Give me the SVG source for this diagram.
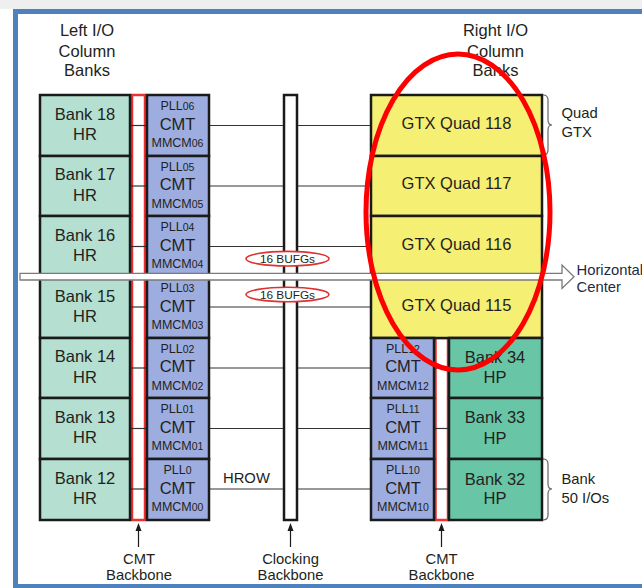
<svg xmlns="http://www.w3.org/2000/svg" width="642" height="588" viewBox="0 0 642 588">
<style>
text{font-family:"Liberation Sans",Arial,sans-serif;fill:#231f20}
.bank{fill:#b4dfd1;stroke:#1a1a1a;stroke-width:2.5}
.hp{fill:#68c6a7;stroke:#1a1a1a;stroke-width:2.5}
.cmt{fill:#9dade0;stroke:#1a1a1a;stroke-width:2.5}
.gtx{fill:#f5ef74;stroke:#1a1a1a;stroke-width:2.5}
.red{fill:#fff;stroke:#ee3030;stroke-width:2.5}
.bb{fill:#fff;stroke:#1a1a1a;stroke-width:2.5}
.ln{stroke:#333;stroke-width:1.2;fill:none}
.br{stroke:#666;stroke-width:1.2;fill:none}
.bt{font-size:16.5px;text-anchor:middle}
.ct{font-size:16.5px;text-anchor:middle}
.pl{font-size:12.5px;text-anchor:middle}
.sm{font-size:10.5px}
.lb{font-size:16.5px;text-anchor:middle}
.lb2{font-size:14.8px;text-anchor:middle}
.side{font-size:14.8px}
.ar{stroke:#1a1a1a;stroke-width:1.2}
.ah{fill:#1a1a1a}
</style>
<rect x="0" y="0" width="642" height="588" fill="#fff"/>
<rect x="0" y="0" width="642" height="9" fill="#efefef"/>
<rect x="15.5" y="11.5" width="660" height="575" fill="#fff" stroke="#4f81bd" stroke-width="5"/>

<g id="labels-top">
<text class="lb" x="87" y="36">Left I/O</text>
<text class="lb" x="87" y="57">Column</text>
<text class="lb" x="87" y="76">Banks</text>
<text class="lb" x="495.5" y="36">Right I/O</text>
<text class="lb" x="495.5" y="57">Column</text>
<text class="lb" x="495.5" y="76">Banks</text>
</g>

<g id="cmt-backbone-left"><rect class="red" x="132" y="95" width="13" height="425"/></g>
<g id="clocking-backbone"><rect class="bb" x="284" y="95" width="13" height="425"/></g>
<g id="cmt-backbone-right"><rect class="red" x="435.5" y="338" width="12.5" height="182"/></g>

<g id="connectors">
<line class="ln" x1="130" y1="125.5" x2="147" y2="125.5"/>
<line class="ln" x1="130" y1="186" x2="147" y2="186"/>
<line class="ln" x1="130" y1="246.5" x2="147" y2="246.5"/>
<line class="ln" x1="130" y1="307" x2="147" y2="307"/>
<line class="ln" x1="130" y1="368" x2="147" y2="368"/>
<line class="ln" x1="130" y1="428.5" x2="147" y2="428.5"/>
<line class="ln" x1="130" y1="489" x2="147" y2="489"/>
<line class="ln" x1="209" y1="125.5" x2="283" y2="125.5"/>
<line class="ln" x1="209" y1="186" x2="283" y2="186"/>
<line class="ln" x1="209" y1="246.5" x2="283" y2="246.5"/>
<line class="ln" x1="209" y1="307" x2="283" y2="307"/>
<line class="ln" x1="209" y1="368" x2="283" y2="368"/>
<line class="ln" x1="209" y1="428.5" x2="283" y2="428.5"/>
<line class="ln" x1="209" y1="489" x2="283" y2="489"/>
<line class="ln" x1="298" y1="125.5" x2="371" y2="125.5"/>
<line class="ln" x1="298" y1="186" x2="371" y2="186"/>
<line class="ln" x1="298" y1="246.5" x2="371" y2="246.5"/>
<line class="ln" x1="298" y1="307" x2="371" y2="307"/>
<line class="ln" x1="298" y1="368" x2="371" y2="368"/>
<line class="ln" x1="298" y1="428.5" x2="371" y2="428.5"/>
<line class="ln" x1="298" y1="489" x2="371" y2="489"/>
<line class="ln" x1="434" y1="368" x2="449" y2="368"/>
<line class="ln" x1="434" y1="428.5" x2="449" y2="428.5"/>
<line class="ln" x1="434" y1="489" x2="449" y2="489"/>
</g>

<g id="bank18"><rect class="bank" x="40" y="95" width="90" height="61"/><text class="bt" x="85" y="119.5">Bank 18</text><text class="bt" x="85" y="140">HR</text></g>
<g id="bank17"><rect class="bank" x="40" y="156" width="90" height="60"/><text class="bt" x="85" y="180">Bank 17</text><text class="bt" x="85" y="200.5">HR</text></g>
<g id="bank16"><rect class="bank" x="40" y="216" width="90" height="61"/><text class="bt" x="85" y="240.5">Bank 16</text><text class="bt" x="85" y="261">HR</text></g>
<g id="bank15"><rect class="bank" x="40" y="277" width="90" height="61"/><text class="bt" x="85" y="301.5">Bank 15</text><text class="bt" x="85" y="322">HR</text></g>
<g id="bank14"><rect class="bank" x="40" y="338" width="90" height="60"/><text class="bt" x="85" y="362">Bank 14</text><text class="bt" x="85" y="382.5">HR</text></g>
<g id="bank13"><rect class="bank" x="40" y="398" width="90" height="61"/><text class="bt" x="85" y="422.5">Bank 13</text><text class="bt" x="85" y="443">HR</text></g>
<g id="bank12"><rect class="bank" x="40" y="459" width="90" height="61"/><text class="bt" x="85" y="483.5">Bank 12</text><text class="bt" x="85" y="504">HR</text></g>

<g id="cmt06"><rect class="cmt" x="147" y="95" width="62" height="61"/><text class="pl" x="177.5" y="110">PLL<tspan class="sm">06</tspan></text><text class="ct" x="177.5" y="129.5">CMT</text><text class="pl" x="177.5" y="147">MMCM<tspan class="sm">06</tspan></text></g>
<g id="cmt05"><rect class="cmt" x="147" y="156" width="62" height="60"/><text class="pl" x="177.5" y="170.5">PLL<tspan class="sm">05</tspan></text><text class="ct" x="177.5" y="190">CMT</text><text class="pl" x="177.5" y="207.5">MMCM<tspan class="sm">05</tspan></text></g>
<g id="cmt04"><rect class="cmt" x="147" y="216" width="62" height="61"/><text class="pl" x="177.5" y="231">PLL<tspan class="sm">04</tspan></text><text class="ct" x="177.5" y="250.5">CMT</text><text class="pl" x="177.5" y="268">MMCM<tspan class="sm">04</tspan></text></g>
<g id="cmt03"><rect class="cmt" x="147" y="277" width="62" height="61"/><text class="pl" x="177.5" y="292">PLL<tspan class="sm">03</tspan></text><text class="ct" x="177.5" y="311.5">CMT</text><text class="pl" x="177.5" y="329">MMCM<tspan class="sm">03</tspan></text></g>
<g id="cmt02"><rect class="cmt" x="147" y="338" width="62" height="60"/><text class="pl" x="177.5" y="352.5">PLL<tspan class="sm">02</tspan></text><text class="ct" x="177.5" y="372">CMT</text><text class="pl" x="177.5" y="389.5">MMCM<tspan class="sm">02</tspan></text></g>
<g id="cmt01"><rect class="cmt" x="147" y="398" width="62" height="61"/><text class="pl" x="177.5" y="413">PLL<tspan class="sm">01</tspan></text><text class="ct" x="177.5" y="432.5">CMT</text><text class="pl" x="177.5" y="450">MMCM<tspan class="sm">01</tspan></text></g>
<g id="cmt00"><rect class="cmt" x="147" y="459" width="62" height="61"/><text class="pl" x="177.5" y="474">PLL<tspan class="sm">0</tspan></text><text class="ct" x="177.5" y="493.5">CMT</text><text class="pl" x="177.5" y="511">MMCM<tspan class="sm">00</tspan></text></g>

<g id="gtx118"><rect class="gtx" x="371" y="95" width="171" height="61"/><text class="ct" x="456.5" y="128.5">GTX Quad 118</text></g>
<g id="gtx117"><rect class="gtx" x="371" y="156" width="171" height="60"/><text class="ct" x="456.5" y="189">GTX Quad 117</text></g>
<g id="gtx116"><rect class="gtx" x="371" y="216" width="171" height="61"/><text class="ct" x="456.5" y="249.5">GTX Quad 116</text></g>
<g id="gtx115"><rect class="gtx" x="371" y="277" width="171" height="61"/><text class="ct" x="456.5" y="310.5">GTX Quad 115</text></g>

<g id="cmt12"><rect class="cmt" x="371" y="338" width="63" height="60"/><text class="pl" x="403" y="352.5">PLL<tspan class="sm">12</tspan></text><text class="ct" x="403" y="372">CMT</text><text class="pl" x="403" y="389.5">MMCM<tspan class="sm">12</tspan></text></g>
<g id="cmt11"><rect class="cmt" x="371" y="398" width="63" height="61"/><text class="pl" x="403" y="413">PLL<tspan class="sm">11</tspan></text><text class="ct" x="403" y="432.5">CMT</text><text class="pl" x="403" y="450">MMCM<tspan class="sm">11</tspan></text></g>
<g id="cmt10"><rect class="cmt" x="371" y="459" width="63" height="61"/><text class="pl" x="403" y="474">PLL<tspan class="sm">10</tspan></text><text class="ct" x="403" y="493.5">CMT</text><text class="pl" x="403" y="511">MMCM<tspan class="sm">10</tspan></text></g>

<g id="bank34"><rect class="hp" x="449" y="338" width="93" height="60"/><text class="bt" x="495" y="362.5">Bank 34</text><text class="bt" x="495" y="383">HP</text></g>
<g id="bank33"><rect class="hp" x="449" y="398" width="93" height="61"/><text class="bt" x="495" y="423">Bank 33</text><text class="bt" x="495" y="443.5">HP</text></g>
<g id="bank32"><rect class="hp" x="449" y="459" width="93" height="61"/><text class="bt" x="495" y="484.5">Bank 32</text><text class="bt" x="495" y="504">HP</text></g>

<g id="braces">
<path class="br" d="M543,95 Q548,95 548,100 L548,120 Q548,125 552,125 Q548,125 548,130 L548,150 Q548,155 543,155"/>
<path class="br" d="M543,459 Q548,459 548,464 L548,484 Q548,489 552,489 Q548,489 548,494 L548,515 Q548,520 543,520"/>
<text class="side" x="561.5" y="118">Quad</text>
<text class="side" x="561.5" y="137">GTX</text>
<text class="side" x="561.5" y="484">Bank</text>
<text class="side" x="561.5" y="503">50 I/Os</text>
</g>

<g id="hrow"><text class="side" x="223" y="483">HROW</text></g>

<g id="horizontal-center">
<polygon points="20,273.3 562,273.3 562,265 574,276.7 562,288.4 562,280 20,280" fill="#fff" stroke="#7a7a7a" stroke-width="1.3"/>
<text class="side" x="576.5" y="275" style="fill:#1f2a44">Horizontal</text>
<text class="side" x="576.5" y="292" style="fill:#1f2a44">Center</text>
</g>

<g id="bufg1"><ellipse cx="287.5" cy="258.7" rx="41.5" ry="7.3" fill="#fff" stroke="#e03030" stroke-width="1.6"/><text x="287.5" y="262.8" style="font-size:11.8px;text-anchor:middle">16 BUFGs</text></g>
<g id="bufg2"><ellipse cx="287.5" cy="294.5" rx="41.5" ry="7.3" fill="#fff" stroke="#e03030" stroke-width="1.6"/><text x="287.5" y="298.6" style="font-size:11.8px;text-anchor:middle">16 BUFGs</text></g>

<g id="bottom-labels">
<line class="ar" x1="138.5" y1="547" x2="138.5" y2="530"/>
<path class="ah" d="M138.5,523 L141.5,531 L135.5,531 Z"/>
<line class="ar" x1="290.5" y1="547" x2="290.5" y2="530"/>
<path class="ah" d="M290.5,523 L293.5,531 L287.5,531 Z"/>
<line class="ar" x1="441.5" y1="547" x2="441.5" y2="530"/>
<path class="ah" d="M441.5,523 L444.5,531 L438.5,531 Z"/>
<text class="lb2" x="139" y="564">CMT</text>
<text class="lb2" x="139" y="580">Backbone</text>
<text class="lb2" x="290.5" y="564">Clocking</text>
<text class="lb2" x="290.5" y="580">Backbone</text>
<text class="lb2" x="441.5" y="564">CMT</text>
<text class="lb2" x="441.5" y="580">Backbone</text>
</g>

<g id="highlight"><ellipse cx="458" cy="212" rx="92" ry="158" fill="none" stroke="#ff0000" stroke-width="5"/></g>
</svg>
